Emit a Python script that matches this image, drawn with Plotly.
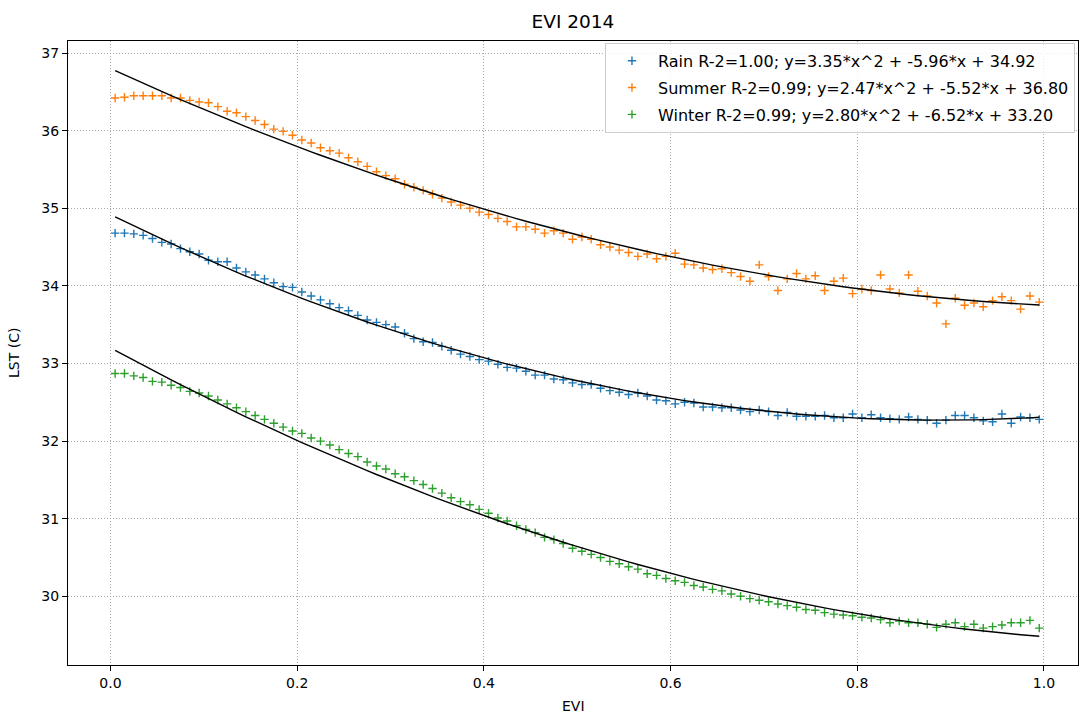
import plotly.graph_objects as go

# EVI bin centres
evi = [
    0.005, 0.015, 0.025, 0.035, 0.045, 0.055, 0.065, 0.075, 0.085, 0.095,
    0.105, 0.115, 0.125, 0.135, 0.145, 0.155, 0.165, 0.175, 0.185, 0.195,
    0.205, 0.215, 0.225, 0.235, 0.245, 0.255, 0.265, 0.275, 0.285, 0.295,
    0.305, 0.315, 0.325, 0.335, 0.345, 0.355, 0.365, 0.375, 0.385, 0.395,
    0.405, 0.415, 0.425, 0.435, 0.445, 0.455, 0.465, 0.475, 0.485, 0.495,
    0.505, 0.515, 0.525, 0.535, 0.545, 0.555, 0.565, 0.575, 0.585, 0.595,
    0.605, 0.615, 0.625, 0.635, 0.645, 0.655, 0.665, 0.675, 0.685, 0.695,
    0.705, 0.715, 0.725, 0.735, 0.745, 0.755, 0.765, 0.775, 0.785, 0.795,
    0.805, 0.815, 0.825, 0.835, 0.845, 0.855, 0.865, 0.875, 0.885, 0.895,
    0.905, 0.915, 0.925, 0.935, 0.945, 0.955, 0.965, 0.975, 0.985, 0.995,
]

# mean LST per EVI bin, by season
lst_rain = [
    34.68, 34.68, 34.67, 34.65, 34.61, 34.56, 34.54, 34.48, 34.44, 34.41,
    34.33, 34.31, 34.31, 34.23, 34.18, 34.14, 34.09, 34.04, 33.99, 33.98,
    33.92, 33.87, 33.82, 33.77, 33.72, 33.68, 33.62, 33.56, 33.53, 33.50,
    33.47, 33.39, 33.32, 33.28, 33.27, 33.22, 33.17, 33.12, 33.09, 33.05,
    33.03, 32.99, 32.95, 32.94, 32.90, 32.85, 32.85, 32.80, 32.79, 32.75,
    32.73, 32.73, 32.68, 32.65, 32.63, 32.60, 32.62, 32.58, 32.53, 32.52,
    32.48, 32.50, 32.49, 32.44, 32.44, 32.43, 32.43, 32.40, 32.38, 32.40,
    32.38, 32.33, 32.37, 32.32, 32.32, 32.32, 32.33, 32.30, 32.30, 32.35,
    32.30, 32.34, 32.30, 32.29, 32.28, 32.31, 32.28, 32.27, 32.23, 32.27,
    32.33, 32.33, 32.30, 32.26, 32.25, 32.35, 32.23, 32.31, 32.30, 32.28,
]
lst_summer = [
    36.42, 36.43, 36.45, 36.45, 36.45, 36.45, 36.42, 36.42, 36.39, 36.37,
    36.36, 36.31, 36.25, 36.23, 36.18, 36.13, 36.08, 36.02, 35.99, 35.94,
    35.88, 35.84, 35.78, 35.74, 35.71, 35.65, 35.60, 35.54, 35.47, 35.42,
    35.38, 35.31, 35.27, 35.23, 35.18, 35.13, 35.08, 35.04, 35.00, 34.95,
    34.92, 34.87, 34.83, 34.76, 34.76, 34.73, 34.68, 34.71, 34.68, 34.60,
    34.63, 34.60, 34.53, 34.50, 34.46, 34.43, 34.38, 34.41, 34.35, 34.38,
    34.42, 34.28, 34.27, 34.23, 34.21, 34.22, 34.17, 34.12, 34.06, 34.27,
    34.12, 33.94, 34.09, 34.16, 34.09, 34.13, 33.94, 34.06, 34.10, 33.90,
    33.96, 33.94, 34.14, 33.96, 33.91, 34.14, 33.93, 33.87, 33.78, 33.51,
    33.84, 33.75, 33.78, 33.73, 33.81, 33.86, 33.81, 33.70, 33.87, 33.79,
]
lst_winter = [
    32.87, 32.87, 32.84, 32.82, 32.77, 32.76, 32.72, 32.69, 32.64, 32.62,
    32.58, 32.53, 32.48, 32.43, 32.38, 32.33, 32.28, 32.23, 32.18, 32.13,
    32.10, 32.04, 32.00, 31.95, 31.89, 31.84, 31.80, 31.73, 31.68, 31.64,
    31.58, 31.54, 31.49, 31.44, 31.39, 31.33, 31.27, 31.22, 31.18, 31.12,
    31.07, 31.01, 30.97, 30.91, 30.86, 30.82, 30.76, 30.73, 30.68, 30.62,
    30.58, 30.54, 30.50, 30.45, 30.42, 30.38, 30.35, 30.29, 30.27, 30.23,
    30.20, 30.18, 30.14, 30.12, 30.09, 30.07, 30.03, 30.00, 29.97, 29.95,
    29.93, 29.90, 29.88, 29.86, 29.83, 29.82, 29.79, 29.77, 29.76, 29.75,
    29.73, 29.72, 29.70, 29.66, 29.68, 29.66, 29.66, 29.64, 29.60, 29.64,
    29.66, 29.61, 29.64, 29.59, 29.61, 29.63, 29.66, 29.66, 29.69, 29.59,
]

seasons = ["Rain", "Summer", "Winter"]
season_values = [lst_rain, lst_summer, lst_winter]
season_colors = ["#1f77b4", "#ff7f0e", "#2ca02c"]

# quadratic fit coefficients (a, b, c) and R^2 for each season
fit_a = [3.35, 2.47, 2.80]
fit_b = [-5.96, -5.52, -6.52]
fit_c = [34.92, 36.80, 33.20]
fit_r2 = [1.00, 0.99, 0.99]

x_ticks = [0.0, 0.2, 0.4, 0.6, 0.8, 1.0]
y_ticks = [30, 31, 32, 33, 34, 35, 36, 37]

FONT = "DejaVu Sans"
PLOT_L, PLOT_R, PLOT_T, PLOT_B = 68, 1078, 41, 665
W, H = 1080, 713

fig = go.Figure()

for name, vals, color, a, b, c, r2 in zip(
    seasons, season_values, season_colors, fit_a, fit_b, fit_c, fit_r2
):
    label = f"{name} R-2={r2:.2f}; y={a:.2f}*x^2 + {b:.2f}*x + {c:.2f}"
    fig.add_trace(
        go.Scatter(
            x=evi,
            y=vals,
            mode="markers",
            name=label,
            legendgroup=name,
            marker=dict(
                symbol="cross-thin-open",
                size=6,
                color=color,
                line=dict(color=color, width=1.4),
            ),
        )
    )

for name, a, b, c in zip(seasons, fit_a, fit_b, fit_c):
    fig.add_trace(
        go.Scatter(
            x=evi,
            y=[a * v * v + b * v + c for v in evi],
            mode="lines",
            line=dict(color="black", width=1.4),
            showlegend=False,
            hoverinfo="skip",
        )
    )

axis_common = dict(
    showline=True,
    linecolor="black",
    linewidth=1,
    mirror=True,
    ticks="outside",
    ticklen=5,
    tickwidth=1,
    tickcolor="black",
    showgrid=True,
    gridcolor="#a8a8a8",
    gridwidth=1,
    griddash="1px,2px",
    zeroline=False,
    tickfont=dict(family=FONT, size=14, color="black"),
)

fig.update_xaxes(
    range=[-0.0455, 1.0365],
    tickvals=x_ticks,
    ticktext=[f"{t:.1f}" for t in x_ticks],
    **axis_common,
)
fig.update_yaxes(
    range=[29.115, 37.155],
    tickvals=y_ticks,
    ticktext=[str(t) for t in y_ticks],
    **axis_common,
)

fig.update_layout(
    width=W,
    height=H,
    margin=dict(l=PLOT_L, r=W - PLOT_R, t=PLOT_T, b=H - PLOT_B),
    paper_bgcolor="white",
    plot_bgcolor="white",
    font=dict(family=FONT, size=14, color="black"),
    title=dict(
        text="EVI 2014",
        x=(PLOT_L + PLOT_R) / 2 / W,
        xanchor="center",
        y=1 - 22 / H,
        yanchor="middle",
        font=dict(family=FONT, size=18.5, color="black"),
    ),
    legend=dict(
        x=0.997,
        y=0.997,
        xanchor="right",
        yanchor="top",
        bgcolor="rgba(255,255,255,0.8)",
        bordercolor="#cccccc",
        borderwidth=1,
        font=dict(family=FONT, size=16, color="black"),
        tracegroupgap=3,
        itemwidth=42,
    ),
    annotations=[
        dict(
            text="EVI",
            xref="paper", yref="paper",
            x=0.5, y=-(706 - PLOT_B) / (PLOT_B - PLOT_T),
            xanchor="center", yanchor="middle",
            showarrow=False,
            font=dict(family=FONT, size=14, color="black"),
        ),
        dict(
            text="LST (C)",
            xref="paper", yref="paper",
            x=-(PLOT_L - 14) / (PLOT_R - PLOT_L), y=0.5,
            xanchor="center", yanchor="middle",
            textangle=-90,
            showarrow=False,
            font=dict(family=FONT, size=14, color="black"),
        ),
    ],
)

fig.write_html("out.html")
